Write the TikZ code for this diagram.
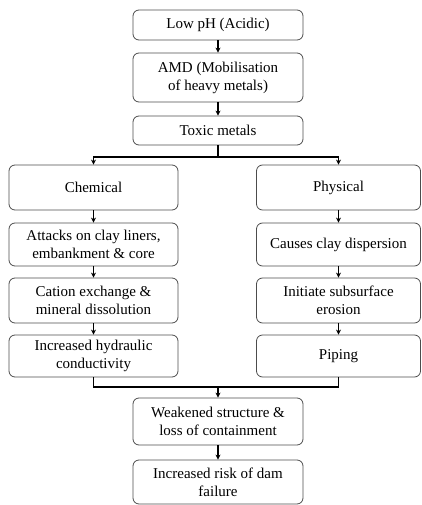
\documentclass[tikz,border=0pt]{standalone}
\usepackage{fontspec}
\setmainfont{Liberation Serif}
\usetikzlibrary{arrows.meta}
\begin{document}
\begin{tikzpicture}[x=1pt,y=-1pt,
  box/.style={draw=black!70, line width=0.8pt, rounded corners=6pt, align=center,
    inner sep=0pt, font=\fontsize{15}{18}\selectfont},
  cbox/.style={box, minimum width=170pt},
  sbox/.style={box, minimum width=169pt},
  link/.style={line width=1.3pt, draw=black},
  arr/.style={link, -{Stealth[length=5pt,width=5pt]}}]
\useasboundingbox (0,0) rectangle (422,505);
\node[cbox, minimum height=30pt] (low) at (218,25) {Low pH (Acidic)};
\node[cbox, minimum height=49pt] (amd) at (218,77.5) {AMD (Mobilisation\\of heavy metals)};
\node[cbox, minimum height=29pt] (toxic) at (218,130.5) {Toxic metals};
\node[sbox, minimum height=45pt] (chem) at (93.5,187.5) {Chemical};
\node[box, minimum width=164pt, minimum height=45pt] (phys) at (338.5,187.5) {Physical};
\node[sbox, minimum height=43pt] (attack) at (93.5,244.5) {Attacks on clay liners,\\embankment \& core};
\node[box, minimum width=164pt, minimum height=43pt] (causes) at (338.5,244.5) {Causes clay dispersion};
\node[sbox, minimum height=45pt] (cation) at (93.5,300.5) {Cation exchange \&\\mineral dissolution};
\node[box, minimum width=164pt, minimum height=45pt] (init) at (338.5,300.5) {Initiate subsurface\\erosion};
\node[sbox, minimum height=42pt] (incr) at (93.5,356) {Increased hydraulic\\conductivity};
\node[box, minimum width=164pt, minimum height=42pt] (piping) at (338.5,356) {Piping};
\node[cbox, minimum height=47pt] (weak) at (218,421.5) {Weakened structure \&\\loss of containment};
\node[cbox, minimum height=44pt] (risk) at (218,482) {Increased risk of dam\\failure};
\coordinate (split) at (218,157);
\coordinate (merge) at (218,387);
\draw[arr] (low) -- (amd);
\draw[arr] (amd) -- (toxic);
\draw[link] (toxic) -- (split);
\draw[arr] (split) -| (chem);
\draw[arr] (split) -| (phys);
\draw[arr] (chem) -- (attack);
\draw[arr] (attack) -- (cation);
\draw[arr] (cation) -- (incr);
\draw[arr] (phys) -- (causes);
\draw[arr] (causes) -- (init);
\draw[arr] (init) -- (piping);
\draw[link] (incr) |- (merge) -| (piping);
\draw[arr] (merge) -- (weak);
\draw[arr] (weak) -- (risk);
\end{tikzpicture}
\end{document}
